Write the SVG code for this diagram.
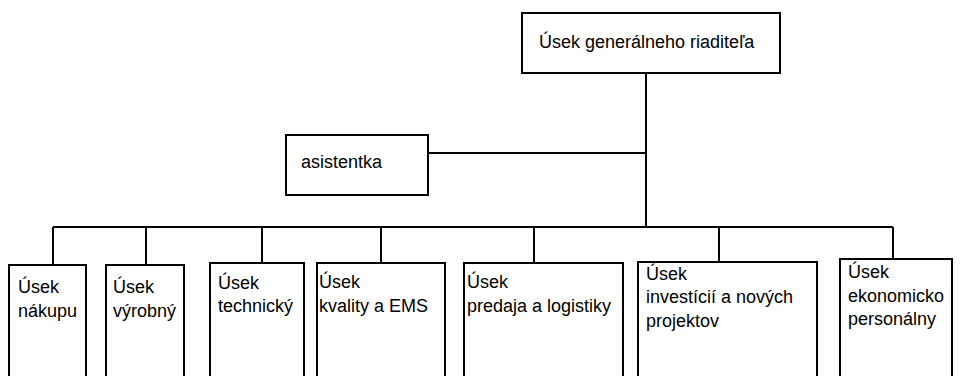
<svg xmlns="http://www.w3.org/2000/svg" width="964" height="376" viewBox="0 0 964 376">
<style>
.box{fill:#fff;stroke:#000;stroke-width:2}
.ln{fill:none;stroke:#000;stroke-width:2}
text{font-family:"Liberation Sans",Arial,sans-serif;font-size:18px;fill:#000}
</style>
<rect width="964" height="376" fill="#fff"/>
<g id="connectors">
<path class="ln" d="M646 73V227M428 153H646M53 227H893M53 227V265M146 227V265M262 227V263M381 227V263M534 227V263M719 227V262M893 227V259"/>
</g>
<g id="n-gen"><rect class="box" x="522" y="13" width="258" height="60"/><text x="539" y="48">Úsek generálneho riaditeľa</text></g>
<g id="n-asist"><rect class="box" x="286" y="135" width="142" height="60"/><text x="301" y="168">asistentka</text></g>
<g id="n-nakup"><rect class="box" x="9" y="265" width="77" height="130"/><text x="18" y="293">Úsek</text><text x="18" y="317">nákupu</text></g>
<g id="n-vyrob"><rect class="box" x="106" y="265" width="78" height="130"/><text x="113" y="293">Úsek</text><text x="113" y="317">výrobný</text></g>
<g id="n-tech"><rect class="box" x="210" y="263" width="94" height="130"/><text x="218" y="289">Úsek</text><text x="218" y="312">technický</text></g>
<g id="n-kval"><rect class="box" x="317" y="263" width="128" height="130"/><text x="319" y="288">Úsek</text><text x="319" y="312">kvality a EMS</text></g>
<g id="n-pred"><rect class="box" x="464" y="263" width="159" height="130"/><text x="467" y="288">Úsek</text><text x="467" y="312">predaja a logistiky</text></g>
<g id="n-inv"><rect class="box" x="638" y="262" width="179" height="130"/><text x="646" y="280">Úsek</text><text x="646" y="303">investícií a nových</text><text x="646" y="327">projektov</text></g>
<g id="n-ekon"><rect class="box" x="840" y="259" width="112" height="130"/><text x="848" y="278">Úsek</text><text x="848" y="302">ekonomicko</text><text x="848" y="325">personálny</text></g>
</svg>
